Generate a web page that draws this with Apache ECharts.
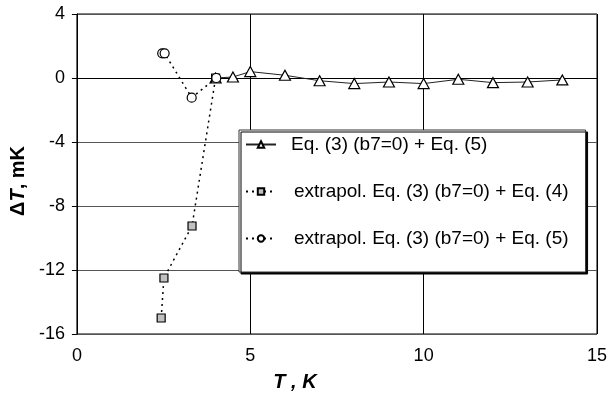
<!DOCTYPE html>
<html>
<head>
<meta charset="utf-8">
<script src="https://cdn.jsdelivr.net/npm/echarts@6/dist/echarts.min.js"></script>
<style>html,body{margin:0;padding:0;background:#fff}#c{width:610px;height:399px}</style>
</head>
<body>
<div id="c"></div>
<script>
const seriesNames = [
  'Eq. (3) (b7=0) + Eq. (5)',
  'extrapol. Eq. (3) (b7=0) + Eq. (4)',
  'extrapol. Eq. (3) (b7=0) + Eq. (5)'
];
const triT = [4, 4.5, 5, 6, 7, 8, 9, 10, 11, 12, 13, 14];
const triDT = [0, 0.06, 0.4, 0.17, -0.17, -0.35, -0.25, -0.35, -0.08, -0.29, -0.25, -0.12];
const sqT = [2.43, 2.51, 3.32, 4];
const sqDT = [-15.0, -12.5, -9.25, 0];
const ciT = [2.46, 2.53, 3.31, 4.02];
const ciDT = [1.54, 1.54, -1.23, 0];
const xTicks = [0, 5, 10, 15];
const yTicks = [-16, -12, -8, -4, 0, 4];

const zip = (a, b) => a.map((v, i) => [v, b[i]]);
const font = '"Liberation Sans", Arial, sans-serif';

const chart = echarts.init(document.getElementById('c'), null, {renderer: 'canvas'});
chart.setOption({
  animation: false,
  backgroundColor: '#fff',
  grid: {left: 74, right: 10, top: 14, bottom: 65, show: true, borderColor: '#000', borderWidth: 1},
  xAxis: {
    type: 'value', min: xTicks[0], max: xTicks[xTicks.length - 1], interval: 5,
    axisLine: {lineStyle: {color: '#000', width: 1}},
    axisTick: {show: true, inside: false, length: 5, lineStyle: {color: '#000'}},
    axisLabel: {color: '#000', fontSize: 18, fontFamily: font, margin: 13},
    splitLine: {show: true, lineStyle: {color: '#000', width: 1}},
    name: '{b|T}{a| , K}', nameLocation: 'middle', nameGap: 38,
    nameTextStyle: {padding: [0, 84, 0, 0], rich: {
      a: {fontSize: 20, fontWeight: 'bold', fontStyle: 'italic', fontFamily: font, color: '#000'},
      b: {fontSize: 20, fontWeight: 'bold', fontStyle: 'italic', fontFamily: font, color: '#000'}
    }}
  },
  yAxis: {
    type: 'value', min: yTicks[0], max: yTicks[yTicks.length - 1], interval: 4,
    axisLine: {show: true, lineStyle: {color: '#000', width: 1}},
    axisTick: {show: true, inside: false, length: 5, lineStyle: {color: '#000'}},
    axisLabel: {color: '#000', fontSize: 18, fontFamily: font, margin: 12},
    splitLine: {show: true, lineStyle: {color: '#555', width: 1}},
    name: '{a|Δ}{b|T}{a|, mK}', nameLocation: 'middle', nameGap: 46, nameRotate: 90,
    nameTextStyle: {padding: [0, 14, 0, 0], rich: {
      a: {fontSize: 20, fontWeight: 'bold', fontFamily: font, color: '#000'},
      b: {fontSize: 20, fontWeight: 'bold', fontStyle: 'italic', fontFamily: font, color: '#000'}
    }}
  },
  legend: {
    orient: 'vertical', left: 239, top: 130,
    padding: [5, 17, 24, 6], itemGap: 28, itemWidth: 30, itemHeight: 8,
    backgroundColor: '#fff', borderColor: '#333', borderWidth: 1,
    shadowColor: '#000', shadowOffsetX: 2, shadowOffsetY: 2, shadowBlur: 0,
    textStyle: {fontSize: 19, fontFamily: font, color: '#000', padding: [0, 0, 0, 10]},
    data: [
      {name: seriesNames[0]},
      {name: seriesNames[1], textStyle: {padding: [0, 0, 0, 13]}},
      {name: seriesNames[2], textStyle: {padding: [0, 0, 0, 13]}}
    ]
  },
  series: [
    {
      name: seriesNames[0], type: 'line', data: zip(triT, triDT),
      symbol: 'triangle', symbolSize: [11, 10],
      lineStyle: {color: '#222', width: 1},
      itemStyle: {color: '#fff', borderColor: '#000', borderWidth: 1.2}, z: 3
    },
    {
      name: seriesNames[1], type: 'line', data: zip(sqT, sqDT),
      symbol: 'rect', symbolSize: 8,
      lineStyle: {color: '#000', width: 1.5, type: [2, 4]},
      itemStyle: {color: '#c0c0c0', borderColor: '#000', borderWidth: 1.2}, z: 4
    },
    {
      name: seriesNames[2], type: 'line', data: zip(ciT, ciDT),
      symbol: 'circle', symbolSize: 9,
      lineStyle: {color: '#000', width: 1.5, type: [2, 4]},
      itemStyle: {color: '#fff', borderColor: '#000', borderWidth: 1.2}, z: 5
    }
  ]
});
</script>
</body>
</html>
